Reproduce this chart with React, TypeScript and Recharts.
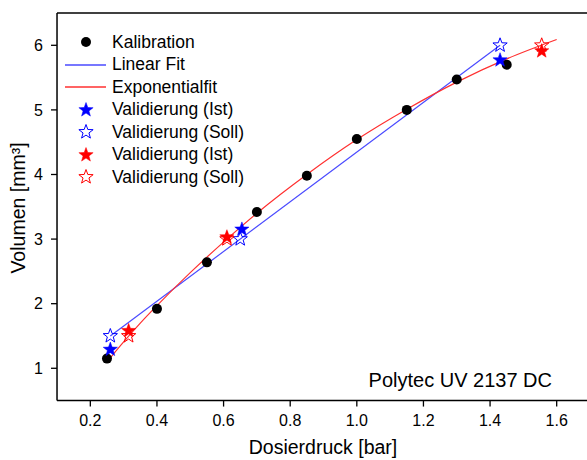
import React from 'react';
import { ComposedChart, Scatter, Line, XAxis, YAxis } from 'recharts';

// Calibration measurements (dosing pressure in bar, volume in mm³)
const calibX = [0.25, 0.4, 0.55, 0.7, 0.85, 1.0, 1.15, 1.3, 1.45];
const calibY = [1.15, 1.92, 2.64, 3.42, 3.98, 4.55, 5.0, 5.47, 5.7];

// Linear fit line
const linFitX = [0.26, 1.43];
const linFitY = [1.5, 6.0];

// Exponential fit curve
const expFitX = [0.25, 0.3, 0.35, 0.4, 0.5, 0.61, 0.7, 0.85, 1.0, 1.15, 1.3, 1.45, 1.6];
const expFitY = [1.1, 1.41, 1.7, 1.97, 2.48, 3.0, 3.4, 4.0, 4.54, 5.01, 5.43, 5.79, 6.09];

// Validation points based on the linear fit
const linIstX = [0.26, 0.655, 1.43];
const linIstY = [1.29, 3.15, 5.77];
const linSollX = [0.26, 0.65, 1.43];
const linSollY = [1.5, 3.0, 6.0];

// Validation points based on the exponential fit
const expIstX = [0.315, 0.61, 1.555];
const expIstY = [1.58, 3.03, 5.91];
const expSollX = [0.315, 0.61, 1.555];
const expSollY = [1.5, 3.0, 6.0];

// Axis ticks
const xMajorTicks = [0.2, 0.4, 0.6, 0.8, 1.0, 1.2, 1.4, 1.6];
const xMinorTicks = [0.1, 0.3, 0.5, 0.7, 0.9, 1.1, 1.3, 1.5, 1.7];
const yMajorTicks = [1, 2, 3, 4, 5, 6];
const yMinorTicks = [0.5, 1.5, 2.5, 3.5, 4.5, 5.5, 6.5];

const xDomain: [number, number] = [0.1, 1.7];
const yDomain: [number, number] = [0.5, 6.5];

const legendLabels = [
  'Kalibration',
  'Linear Fit',
  'Exponentialfit',
  'Validierung (Ist)',
  'Validierung (Soll)',
  'Validierung (Ist)',
  'Validierung (Soll)',
];

const zip = (xs: number[], ys: number[]) => xs.map((x, i) => ({ x, y: ys[i] }));

const FONT = '"Liberation Sans", Arial, sans-serif';
const BLUE = '#0000ff';
const BLUE_LINE = '#4a4aff';
const RED = '#ff0000';
const RED_LINE = '#ff3030';
// axes need a non-zero thickness to render; keep it negligible so they share the frame
const THIN = 0.01;

const starPoints = (cx: number, cy: number, R: number, r: number) => {
  const pts: string[] = [];
  for (let i = 0; i < 10; i++) {
    const rad = i % 2 === 0 ? R : r;
    const a = -Math.PI / 2 + (i * Math.PI) / 5;
    pts.push(`${(cx + rad * Math.cos(a)).toFixed(2)},${(cy + rad * Math.sin(a)).toFixed(2)}`);
  }
  return pts.join(' ');
};

const makeStar = (color: string, filled: boolean) => (props: any) => {
  const { cx, cy } = props;
  if (cx == null || cy == null) return <g />;
  return (
    <polygon
      points={starPoints(cx, cy, 7.5, 3.1)}
      fill={filled ? color : 'none'}
      stroke={color}
      strokeWidth={filled ? 0.5 : 1}
      strokeLinejoin="miter"
    />
  );
};

const Dot = (props: any) => {
  const { cx, cy } = props;
  if (cx == null || cy == null) return <g />;
  return <circle cx={cx} cy={cy} r={5} fill="#000" />;
};

const LegendSymbol = ({ index }: { index: number }) => {
  const c = 22;
  const m = 11;
  let el: React.ReactNode = null;
  if (index === 0) el = <circle cx={c} cy={m} r={5} fill="#000" />;
  else if (index === 1) el = <line x1={1} x2={42} y1={m} y2={m} stroke={BLUE_LINE} strokeWidth={1.3} />;
  else if (index === 2) el = <line x1={1} x2={42} y1={m} y2={m} stroke={RED_LINE} strokeWidth={1.3} />;
  else {
    const color = index < 5 ? BLUE : RED;
    const filled = index === 3 || index === 5;
    el = (
      <polygon
        points={starPoints(c, m, 7.5, 3.1)}
        fill={filled ? color : 'none'}
        stroke={color}
        strokeWidth={filled ? 0.5 : 1}
      />
    );
  }
  return (
    <svg width={44} height={22} style={{ display: 'block' }}>
      {el}
    </svg>
  );
};

const tickLineStyle = { stroke: '#000', strokeWidth: 1.3 };
const axisLineStyle = { stroke: '#000', strokeWidth: 1.5 };

export default function App() {
  return (
    <div
      style={{
        position: 'absolute',
        left: 0,
        top: 0,
        width: 587,
        height: 460,
        overflow: 'hidden',
        background: '#fff',
        fontFamily: FONT,
      }}
    >
      <ComposedChart width={600} height={460} margin={{ top: 13, right: 10, bottom: 59.4, left: 57 }}>
        <XAxis
          xAxisId={0}
          type="number"
          dataKey="x"
          domain={xDomain}
          allowDataOverflow
          ticks={xMajorTicks}
          interval={0}
          tickFormatter={(v: number) => v.toFixed(1)}
          tickSize={6}
          tickMargin={8}
          height={THIN}
          axisLine={axisLineStyle}
          tickLine={tickLineStyle}
          tick={{ fill: '#000', fontSize: 16, fontFamily: FONT }}
        />
        <XAxis
          xAxisId="xMinor"
          type="number"
          dataKey="x"
          domain={xDomain}
          allowDataOverflow
          ticks={xMinorTicks}
          interval={0}
          tickSize={3.5}
          height={THIN}
          axisLine={false}
          tickLine={tickLineStyle}
          tick={false}
        />
        <XAxis
          xAxisId="xTop"
          orientation="top"
          mirror
          type="number"
          dataKey="x"
          domain={xDomain}
          allowDataOverflow
          ticks={xMajorTicks}
          interval={0}
          tickSize={6}
          height={THIN}
          axisLine={axisLineStyle}
          tickLine={tickLineStyle}
          tick={false}
        />
        <XAxis
          xAxisId="xTopMinor"
          orientation="top"
          mirror
          type="number"
          dataKey="x"
          domain={xDomain}
          allowDataOverflow
          ticks={xMinorTicks}
          interval={0}
          tickSize={3.5}
          height={THIN}
          axisLine={false}
          tickLine={tickLineStyle}
          tick={false}
        />
        <YAxis
          yAxisId={0}
          type="number"
          dataKey="y"
          domain={yDomain}
          allowDataOverflow
          ticks={yMajorTicks}
          interval={0}
          tickSize={6}
          tickMargin={8}
          width={THIN}
          axisLine={axisLineStyle}
          tickLine={tickLineStyle}
          tick={{ fill: '#000', fontSize: 16, fontFamily: FONT }}
        />
        <YAxis
          yAxisId="yMinor"
          type="number"
          domain={yDomain}
          allowDataOverflow
          ticks={yMinorTicks}
          interval={0}
          tickSize={3.5}
          width={THIN}
          axisLine={false}
          tickLine={tickLineStyle}
          tick={false}
        />
        <YAxis
          yAxisId="yRight"
          orientation="right"
          mirror
          type="number"
          domain={yDomain}
          allowDataOverflow
          ticks={yMajorTicks}
          interval={0}
          tickSize={6}
          width={THIN}
          axisLine={axisLineStyle}
          tickLine={tickLineStyle}
          tick={false}
        />
        <YAxis
          yAxisId="yRightMinor"
          orientation="right"
          mirror
          type="number"
          domain={yDomain}
          allowDataOverflow
          ticks={yMinorTicks}
          interval={0}
          tickSize={3.5}
          width={THIN}
          axisLine={false}
          tickLine={tickLineStyle}
          tick={false}
        />

        <Scatter name="Kalibration" data={zip(calibX, calibY)} dataKey="y" shape={Dot} isAnimationActive={false} />
        <Line
          name="Linear Fit"
          data={zip(linFitX, linFitY)}
          dataKey="y"
          type="linear"
          stroke={BLUE_LINE}
          strokeWidth={1.2}
          dot={false}
          activeDot={false}
          isAnimationActive={false}
        />
        <Line
          name="Exponentialfit"
          data={zip(expFitX, expFitY)}
          dataKey="y"
          type="monotone"
          stroke={RED_LINE}
          strokeWidth={1.2}
          dot={false}
          activeDot={false}
          isAnimationActive={false}
        />
        <Scatter name="Validierung (Soll) linear" data={zip(linSollX, linSollY)} dataKey="y" shape={makeStar(BLUE, false)} isAnimationActive={false} />
        <Scatter name="Validierung (Ist) linear" data={zip(linIstX, linIstY)} dataKey="y" shape={makeStar(BLUE, true)} isAnimationActive={false} />
        <Scatter name="Validierung (Soll) exp" data={zip(expSollX, expSollY)} dataKey="y" shape={makeStar(RED, false)} isAnimationActive={false} />
        <Scatter name="Validierung (Ist) exp" data={zip(expIstX, expIstY)} dataKey="y" shape={makeStar(RED, true)} isAnimationActive={false} />
      </ComposedChart>

      {/* Legend */}
      <div style={{ position: 'absolute', left: 64, top: 30.75 }}>
        {legendLabels.map((label, i) => (
          <div key={i} style={{ display: 'flex', alignItems: 'center', height: 22.5 }}>
            <LegendSymbol index={i} />
            <span style={{ marginLeft: 4, fontSize: 17.5, lineHeight: '22.5px', color: '#000', whiteSpace: 'nowrap' }}>
              {label}
            </span>
          </div>
        ))}
      </div>

      {/* Sample annotation */}
      <div
        style={{
          position: 'absolute',
          right: 35,
          top: 369.8,
          fontSize: 20,
          lineHeight: '20px',
          color: '#000',
          whiteSpace: 'nowrap',
        }}
      >
        Polytec UV 2137 DC
      </div>

      {/* Axis titles */}
      <div
        style={{
          position: 'absolute',
          left: 223,
          width: 200,
          top: 437,
          textAlign: 'center',
          fontSize: 19.5,
          lineHeight: '20px',
          color: '#000',
          whiteSpace: 'nowrap',
        }}
      >
        Dosierdruck [bar]
      </div>
      <div
        style={{
          position: 'absolute',
          left: 18,
          top: 208,
          transform: 'translate(-50%, -50%) rotate(-90deg)',
          fontSize: 19.5,
          lineHeight: '20px',
          color: '#000',
          whiteSpace: 'nowrap',
        }}
      >
        Volumen [mm³]
      </div>
    </div>
  );
}
